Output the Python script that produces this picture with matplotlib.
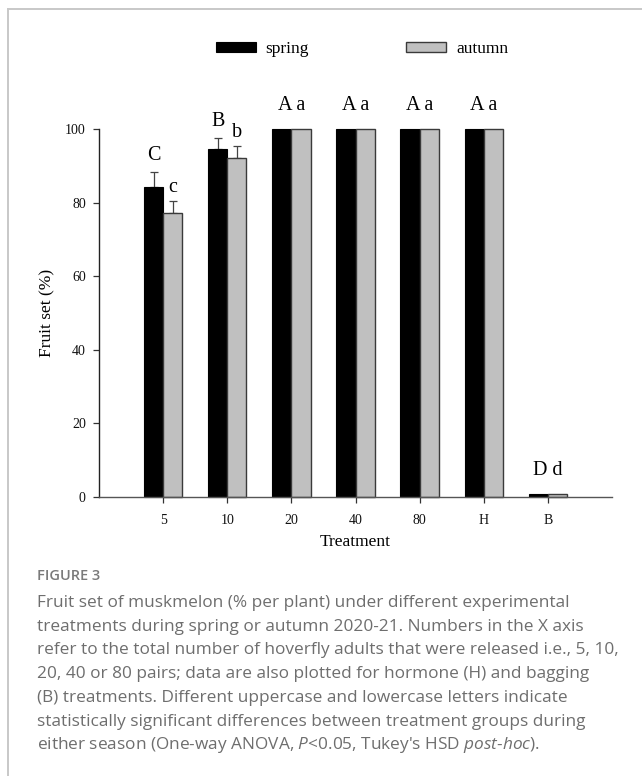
import numpy as np
import matplotlib
matplotlib.use("Agg")
import matplotlib.pyplot as plt
from matplotlib.lines import Line2D

# ---------------- data ----------------
treatments = ["5", "10", "20", "40", "80", "H", "B"]
spring = [84.3, 94.5, 100, 100, 100, 100, 0.8]
autumn = [77.1, 92.0, 100, 100, 100, 100, 0.8]
spring_se = [4.1, 3.0, 0, 0, 0, 0, 0]
autumn_se = [3.3, 3.4, 0, 0, 0, 0, 0]
spring_letters = ["C", "B", "A", "A", "A", "A", "D"]
autumn_letters = ["c", "b", "a", "a", "a", "a", "d"]
series_names = ["spring", "autumn"]
yticks = [0, 20, 40, 60, 80, 100]
xlabel = "Treatment"
ylabel = "Fruit set (%)"
fig_label = "FIGURE 3"
caption_lines = [
    "Fruit set of muskmelon (% per plant) under different experimental",
    "treatments during spring or autumn 2020-21. Numbers in the X axis",
    "refer to the total number of hoverfly adults that were released i.e., 5, 10,",
    "20, 40 or 80 pairs; data are also plotted for hormone (H) and bagging",
    "(B) treatments. Different uppercase and lowercase letters indicate",
    "statistically significant differences between treatment groups during",
    r"either season (One-way ANOVA, $\it{P}$<0.05, Tukey's HSD $\it{post}$-$\it{hoc}$).",
]

# ---------------- layout ----------------
W, H = 642, 776
DPI = 100
fig = plt.figure(figsize=(W / DPI, H / DPI), dpi=DPI)
fig.patch.set_facecolor("white")
plt.rcParams["mathtext.fontset"] = "custom"
plt.rcParams["mathtext.it"] = "Open Sans:italic"
plt.rcParams["mathtext.rm"] = "Open Sans"

serif = ["Liberation Serif", "DejaVu Serif"]
sans = ["Open Sans", "DejaVu Sans"]

ax_left, ax_right = 99 / W, 612 / W
ax_top, ax_bottom = 1 - 129 / H, 1 - 497 / H
ax = fig.add_axes([ax_left, ax_bottom, ax_right - ax_left, ax_top - ax_bottom])

x = np.arange(len(treatments))
bw = 0.3
edge = "#3a3a3a"
b1 = ax.bar(x - bw / 2, spring, bw, color="black", edgecolor="black", linewidth=0.8,
            label=series_names[0], clip_on=False, zorder=2)
b2 = ax.bar(x + bw / 2, autumn, bw, color="#c0c0c0", edgecolor=edge, linewidth=1.0,
            label=series_names[1], clip_on=False, zorder=2)

sp = np.array(spring); au = np.array(autumn)
sse = np.array(spring_se); ase = np.array(autumn_se)
ms = sse > 0
ma = ase > 0
ax.errorbar(x[ms] - bw / 2, sp[ms], yerr=[np.zeros(ms.sum()), sse[ms]], fmt="none",
            ecolor="#444444", elinewidth=0.9, capsize=3, capthick=0.9, zorder=1)
ax.errorbar(x[ma] + bw / 2, au[ma], yerr=[np.zeros(ma.sum()), ase[ma]], fmt="none",
            ecolor="#444444", elinewidth=0.9, capsize=3, capthick=0.9, zorder=1)

# significance letters
letter_fs = 14.5
for i in range(len(treatments)):
    top_s = sp[i] + sse[i]
    top_a = au[i] + ase[i]
    if abs(top_s - top_a) < 0.5:
        ax.annotate(spring_letters[i] + " " + autumn_letters[i], (x[i], max(top_s, top_a)),
                    xytext=(0, 10), textcoords="offset points", ha="center", va="bottom",
                    fontsize=letter_fs, family=serif, annotation_clip=False)
    else:
        ax.annotate(spring_letters[i], (x[i] - bw / 2, top_s), xytext=(0, 5),
                    textcoords="offset points", ha="center", va="bottom",
                    fontsize=letter_fs, family=serif, annotation_clip=False)
        ax.annotate(autumn_letters[i], (x[i] + bw / 2, top_a), xytext=(0, 3),
                    textcoords="offset points", ha="center", va="bottom",
                    fontsize=letter_fs, family=serif, annotation_clip=False)

ax.set_xlim(-1, 7)
ax.set_ylim(0, 100)
ax.set_xticks(x)
ax.set_xticklabels(treatments)
ax.set_yticks(yticks)
ax.set_yticklabels([str(t) for t in yticks])
for s in ["top", "right"]:
    ax.spines[s].set_visible(False)
ax.spines["left"].set_color("#222222")
ax.spines["bottom"].set_color("#555555")
ax.spines["left"].set_linewidth(1.0)
ax.spines["bottom"].set_linewidth(1.0)
ax.tick_params(axis="both", direction="out", length=4.5, width=0.9, colors="#333333",
               labelcolor="#111111", labelsize=10)
ax.tick_params(axis="x", pad=8)
ax.tick_params(axis="y", pad=5)
for lab in ax.get_xticklabels() + ax.get_yticklabels():
    lab.set_family(serif)
ax.set_xlabel(xlabel, fontsize=12.5, family=serif, labelpad=5)
ax.set_ylabel(ylabel, fontsize=12.5, family=serif, labelpad=7)

# legend
leg = fig.legend(handles=[b1, b2], labels=series_names, loc="center",
                 bbox_to_anchor=(362 / W, 1 - 49 / H), ncol=2, frameon=False,
                 handlelength=2.3, handleheight=0.57, handletextpad=0.57,
                 columnspacing=5.6, borderpad=0, prop={"family": serif, "size": 12.5})

# page frame (light grey)
fig.add_artist(Line2D([7.5 / W, 7.5 / W], [0, 1 - 9 / H], transform=fig.transFigure,
                      color="#c8c8c8", lw=1.4))
fig.add_artist(Line2D([7.5 / W, 1], [1 - 9 / H, 1 - 9 / H], transform=fig.transFigure,
                      color="#c8c8c8", lw=1.4))

# caption
fig.text(37 / W, 1 - 576 / H, fig_label, fontsize=10.5, family=sans, weight="semibold",
         color="#7a7a7a", va="center", ha="left")
y0 = 603
for k, line in enumerate(caption_lines):
    fig.text(37 / W, 1 - (y0 + k * 23.7) / H, line, fontsize=12.4, family=sans,
             color="#6e6e6e", va="center", ha="left")

fig.savefig("out.png", dpi=DPI, facecolor="white")
